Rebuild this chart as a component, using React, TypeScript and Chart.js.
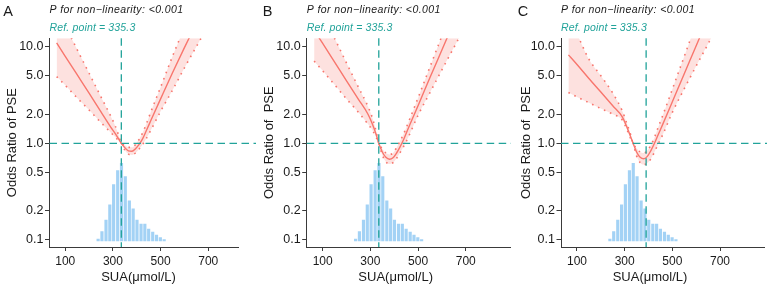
import React, { useEffect, useRef } from "react";
import { Chart, registerables } from "chart.js";

Chart.register(...registerables);

// SUA values (µmol/L) at which the spline estimates are tabulated
const suaGrid = [64, 100, 150, 200, 250, 290, 310, 325, 335.3, 350, 365, 380, 395, 410, 425, 440, 460, 500, 550, 600, 650, 700, 800];

// Panel A: odds ratio of PSE with 95% CI
const orA = [10.96, 7.94, 5.13, 3.31, 2.11, 1.48, 1.26, 1.10, 1.0, 0.902, 0.836, 0.828, 0.881, 0.977, 1.12, 1.35, 1.74, 2.88, 5.37, 9.77, 17.4, 30.9, 95.5];
const lowA = [4.9, 3.98, 2.95, 2.21, 1.64, 1.3, 1.16, 1.06, 1.0, 0.851, 0.773, 0.759, 0.794, 0.871, 0.977, 1.12, 1.38, 2.14, 3.55, 6.03, 10.0, 16.6, 45.7];
const upA = [25.1, 16.6, 9.33, 5.31, 3.02, 1.93, 1.51, 1.19, 1.0, 0.955, 0.908, 0.908, 0.973, 1.1, 1.29, 1.58, 2.14, 3.8, 7.94, 15.8, 31.6, 63.1, 251];

// Panel B
const orB = [14.8, 10.8, 6.92, 4.42, 2.85, 2.0, 1.55, 1.22, 1.0, 0.813, 0.716, 0.684, 0.708, 0.794, 0.923, 1.1, 1.45, 2.45, 4.79, 9.23, 17.8, 34.7, 126];
const lowB = [7.08, 5.62, 4.03, 2.88, 2.09, 1.58, 1.35, 1.14, 1.0, 0.759, 0.646, 0.61, 0.631, 0.7, 0.804, 0.933, 1.17, 1.95, 3.35, 5.75, 9.77, 16.6, 49.0];
const upB = [33.1, 21.9, 12.2, 6.76, 3.8, 2.4, 1.78, 1.3, 1.0, 0.881, 0.794, 0.767, 0.794, 0.902, 1.06, 1.26, 1.66, 2.95, 6.17, 12.9, 26.9, 56.2, 251];

// Panel C
const orC = [8.22, 6.53, 4.68, 3.39, 2.45, 1.88, 1.46, 1.17, 1.0, 0.813, 0.716, 0.692, 0.733, 0.841, 1.0, 1.22, 1.58, 2.69, 5.25, 10.2, 20.0, 38.9, 148];
const lowC = [3.35, 3.02, 2.63, 2.29, 2.0, 1.74, 1.38, 1.12, 1.0, 0.741, 0.631, 0.603, 0.624, 0.692, 0.813, 0.977, 1.23, 2.09, 3.67, 6.31, 10.7, 18.6, 56.2];
const upC = [20.0, 13.5, 7.41, 5.01, 3.31, 2.16, 1.58, 1.23, 1.0, 0.891, 0.813, 0.794, 0.841, 0.955, 1.15, 1.45, 1.95, 3.63, 7.94, 17.4, 38.0, 83.2, 398];

// Distribution of SUA: bin centres (µmol/L) and share of participants (%)
const histBins = [238, 254, 271, 287, 303, 320, 336, 352, 369, 385, 401, 418, 434, 450, 467, 483, 499, 515];
const histPct = [0.4, 1.9, 4.2, 7.3, 11.4, 14.2, 15.7, 13.0, 8.1, 6.5, 4.2, 3.4, 3.4, 2.4, 1.8, 1.2, 0.7, 0.3];

const yTicks = [0.1, 0.2, 0.5, 1, 2, 5, 10];
const xTicks = [100, 300, 500, 700];
const refPoint = 335.3;
// position of the vertical guide in each panel (SUA)
const guideSUA = [335.3, 335.3, 390];

const pText = "P for non\u2212linearity: <0.001";
const xTitle = "SUA(\u03bcmol/L)";

const FONT = "'Liberation Sans', Arial, Helvetica, sans-serif";
const RED = "#F8766D";
const PINK = "rgba(248,118,109,0.22)";
const BLUE = "#A3D2F5";
const TEAL = "#22A39A";
const AXIS = "#3a3a3a";
const TXT = "#1a1a1a";

type PanelSpec = {
  letter: string;
  letterX: number;
  width: number;
  axisLeft: number;
  padRight: number;
  xMin: number;
  xMax: number;
  est: number[];
  low: number[];
  up: number[];
  guide: number;
  yTitle: string;
  yTitleX: number;
};

const panels: PanelSpec[] = [
  { letter: "A", letterX: 3.3, width: 256, axisLeft: 49.5, padRight: 17.7, xMin: 34, xMax: 826, est: orA, low: lowA, up: upA, guide: guideSUA[0], yTitle: "Odds Ratio of PSE", yTitleX: 15.7 },
  { letter: "B", letterX: 6.7, width: 255, axisLeft: 50.7, padRight: 0, xMin: 32.9, xMax: 889.9, est: orB, low: lowB, up: upB, guide: guideSUA[1], yTitle: "Odds Ratio of  PSE", yTitleX: 16.7 },
  { letter: "C", letterX: 6.7, width: 256, axisLeft: 50, padRight: 2.7, xMin: 32.9, xMax: 885.7, est: orC, low: lowC, up: upC, guide: guideSUA[2], yTitle: "Odds Ratio of  PSE", yTitleX: 19.3 },
];

// reference lines, panel letter and annotations
const annotate = {
  id: "annotate",
  afterDatasetsDraw(chart: any, _args: any, o: any) {
    const { ctx, chartArea: a, scales } = chart;
    const y1 = scales.y.getPixelForValue(1);
    const xg = scales.x.getPixelForValue(o.guide);
    ctx.save();
    ctx.strokeStyle = TEAL;
    ctx.lineWidth = 1.3;
    ctx.setLineDash([7.5, 4.5]);
    ctx.beginPath();
    ctx.moveTo(a.left, y1);
    ctx.lineTo(chart.width, y1);
    ctx.stroke();
    ctx.beginPath();
    ctx.moveTo(xg, a.top);
    ctx.lineTo(xg, a.bottom);
    ctx.stroke();
    ctx.restore();
  },
  afterDraw(chart: any, _args: any, o: any) {
    const { ctx, chartArea: a } = chart;
    ctx.save();
    ctx.fillStyle = TXT;
    ctx.textAlign = "left";
    ctx.textBaseline = "alphabetic";
    ctx.font = `14.5px ${FONT}`;
    ctx.fillText(o.letter, o.letterX, 15.5);

    ctx.font = `italic 10.5px ${FONT}`;
    ctx.letterSpacing = "0.4px";
    ctx.fillText(pText, a.left, 12.7);
    ctx.letterSpacing = "0.15px";
    ctx.fillStyle = TEAL;
    ctx.fillText(`Ref. point = ${refPoint}`, a.left, 31);
    ctx.letterSpacing = "0px";

    ctx.fillStyle = TXT;
    ctx.font = `13px ${FONT}`;
    ctx.save();
    ctx.translate(o.yTitleX, (a.top + a.bottom) / 2);
    ctx.rotate(-Math.PI / 2);
    ctx.textAlign = "center";
    ctx.fillText(o.yTitle, 0, 0);
    ctx.restore();

    ctx.textAlign = "center";
    ctx.fillText(xTitle, a.left + 89, 280.5);
    ctx.restore();
  },
};

function Panel({ spec }: { spec: PanelSpec }) {
  const ref = useRef<HTMLCanvasElement>(null);
  useEffect(() => {
    const canvas = ref.current;
    if (!canvas) return;
    const pts = (ys: number[]) => suaGrid.map((x, i) => ({ x, y: ys[i] }));
    const curve = { pointRadius: 0, cubicInterpolationMode: "monotone" as const, yAxisID: "y" };
    const chart = new Chart(canvas, {
      type: "line",
      data: {
        datasets: [
          { ...curve, label: "OR", data: pts(spec.est), borderColor: RED, borderWidth: 1.4, fill: false },
          { ...curve, label: "Upper", data: pts(spec.up), borderColor: RED, borderWidth: 1.6, borderDash: [1.6, 5], fill: false },
          { ...curve, label: "Lower", data: pts(spec.low), borderColor: RED, borderWidth: 1.6, borderDash: [1.6, 5], fill: "-1", backgroundColor: PINK },
          {
            type: "bar",
            label: "SUA",
            data: histBins.map((x, i) => ({ x, y: histPct[i] })),
            backgroundColor: BLUE,
            barThickness: 2.5,
            yAxisID: "yh",
          } as any,
        ],
      },
      options: {
        responsive: false,
        animation: false,
        layout: { padding: { top: 38.3, right: spec.padRight, bottom: 0, left: 0 } },
        plugins: {
          legend: { display: false },
          tooltip: { enabled: false },
          annotate: { letter: spec.letter, letterX: spec.letterX, guide: spec.guide, yTitle: spec.yTitle, yTitleX: spec.yTitleX },
        } as any,
        scales: {
          x: {
            type: "linear",
            min: spec.xMin,
            max: spec.xMax,
            offset: false,
            afterBuildTicks: (s: any) => {
              s.ticks = xTicks.map((v) => ({ value: v }));
            },
            afterFit: (s: any) => {
              s.height = 39;
            },
            grid: { display: true, drawOnChartArea: false, drawTicks: true, tickLength: 4, color: AXIS, offset: false },
            border: { display: true, color: AXIS, width: 1 },
            ticks: { color: TXT, font: { family: FONT, size: 12 }, padding: 3, maxRotation: 0, autoSkip: false, callback: (v: any) => String(v) },
          },
          y: {
            type: "logarithmic",
            min: 0.0846,
            max: 12.2,
            afterBuildTicks: (s: any) => {
              s.ticks = yTicks.map((v) => ({ value: v }));
            },
            afterFit: (s: any) => {
              s.width = spec.axisLeft;
            },
            grid: { display: true, drawOnChartArea: false, drawTicks: true, tickLength: 4.5, color: AXIS },
            border: { display: true, color: AXIS, width: 1 },
            ticks: { color: TXT, font: { family: FONT, size: 12.5 }, padding: 1.5, autoSkip: false, callback: (v: any) => Number(v).toFixed(1) },
          },
          yh: { type: "linear", display: false, min: -1.21, max: 40.92 },
        },
      },
      plugins: [annotate],
    });
    return () => chart.destroy();
  }, [spec]);
  return <canvas ref={ref} width={spec.width} height={286} style={{ display: "block", width: spec.width, height: 286 }} />;
}

export default function App() {
  return (
    <div style={{ position: "absolute", left: 0, top: 0, width: 767, height: 286, display: "flex", background: "#fff" }}>
      {panels.map((p) => (
        <Panel key={p.letter} spec={p} />
      ))}
    </div>
  );
}
